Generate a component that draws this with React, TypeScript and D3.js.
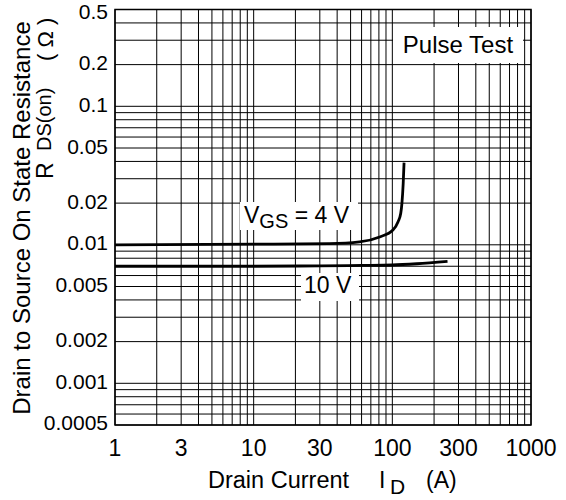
import React from "react";
import * as d3 from "d3";

const xTicks = [1, 3, 10, 30, 100, 300, 1000];
const yTicks = [0.5, 0.2, 0.1, 0.05, 0.02, 0.01, 0.005, 0.002, 0.001, 0.0005];

const vgs4I = [1, 10, 35, 58, 81, 101, 110, 115, 117.3, 119.8, 121.5];
const vgs4R = [0.01, 0.0101, 0.0102, 0.0105, 0.0114, 0.0128, 0.0147, 0.0169, 0.02, 0.0278, 0.0392];

const vgs10I = [1, 10, 30, 60, 100, 150, 250];
const vgs10R = [0.007, 0.007, 0.00705, 0.0071, 0.00715, 0.0073, 0.0076];

const W = 566;
const H = 500;
const L = 115, R = 531, T = 9.5, B = 425;

function logGrid(min: number, max: number): number[] {
  const out: number[] = [];
  for (let e = Math.floor(Math.log10(min)); e <= Math.ceil(Math.log10(max)); e++) {
    for (let m = 1; m <= 9; m++) {
      const v = m * Math.pow(10, e);
      if (v >= min * 0.9999 && v <= max * 1.0001) out.push(+v.toPrecision(6));
    }
  }
  return out;
}

export default function App() {
  const x = d3.scaleLog().domain([1, 1000]).range([L, R]);
  const y = d3.scaleLog().domain([0.0005, 0.5]).range([B, T]);
  const font = "'Liberation Sans', Arial, Helvetica, sans-serif";

  const xg = logGrid(1, 1000);
  const yg = logGrid(0.0005, 0.5);

  const line = d3
    .line<[number, number]>()
    .x((d) => x(d[0]))
    .y((d) => y(d[1]))
    .curve(d3.curveMonotoneX);

  const c4 = line(vgs4I.map((v, i) => [v, vgs4R[i]] as [number, number]));
  const c10 = line(vgs10I.map((v, i) => [v, vgs10R[i]] as [number, number]));

  return (
    <svg
      width={W}
      height={H}
      style={{ position: "absolute", left: 0, top: 0, background: "#fff" }}
      fontFamily={font}
    >
      <rect x={0} y={0} width={W} height={H} fill="#fff" />
      {xg.map((v) => (
        <line key={"x" + v} x1={x(v)} x2={x(v)} y1={T} y2={B} stroke="#000" strokeWidth={1} />
      ))}
      {yg.map((v) => (
        <line key={"y" + v} x1={L} x2={R} y1={y(v)} y2={y(v)} stroke="#000" strokeWidth={1} />
      ))}
      <rect x={L} y={T} width={R - L} height={B - T} fill="none" stroke="#000" strokeWidth={1.5} />

      <path d={c4 || ""} fill="none" stroke="#000" strokeWidth={2.8} />
      <path d={c10 || ""} fill="none" stroke="#000" strokeWidth={2.8} />

      {/* Pulse Test label */}
      <rect x={393} y={27} width={130} height={36} fill="#fff" />
      <text x={458} y={53} fontSize={24} textAnchor="middle" fill="#000">Pulse Test</text>

      {/* VGS = 4 V label */}
      <rect x={240} y={202} width={118} height={28} fill="#fff" />
      <text x={244} y={223} fontSize={23} fill="#000">
        V<tspan fontSize={20} dy={5}>GS</tspan>
        <tspan dy={-5}> = 4 V</tspan>
      </text>

      {/* 10 V label */}
      <rect x={301} y={273} width={58} height={28} fill="#fff" />
      <text x={304} y={293} fontSize={23} fill="#000">10 V</text>

      {/* y ticks */}
      {yTicks.map((v) => (
        <text key={"yt" + v} x={108} y={Math.min(Math.max(y(v) + 5.5, 19), 430)} fontSize={21} textAnchor="end" fill="#000">
          {String(v)}
        </text>
      ))}
      {/* x ticks */}
      {xTicks.map((v) => (
        <text key={"xt" + v} x={x(v)} y={456} fontSize={23} textAnchor="middle" fill="#000">
          {String(v)}
        </text>
      ))}

      {/* x title */}
      <text x={208} y={488} fontSize={23.5} fill="#000">Drain Current</text>
      <text x={379} y={488} fontSize={23} fill="#000">I</text>
      <text x={390} y={494} fontSize={21} fill="#000">D</text>
      <text x={426} y={488} fontSize={23} fill="#000">(A)</text>

      {/* y title */}
      <text transform="translate(30,218) rotate(-90)" fontSize={24} textAnchor="middle" fill="#000">
        Drain to Source On State Resistance
      </text>
      <text transform="translate(53,179) rotate(-90)" fontSize={23} fill="#000">R</text>
      <text transform="translate(51,151) rotate(-90)" fontSize={20} fill="#000">DS(on)</text>
      <text transform="translate(53,61) rotate(-90)" fontSize={22} fill="#000">( Ω )</text>
    </svg>
  );
}
